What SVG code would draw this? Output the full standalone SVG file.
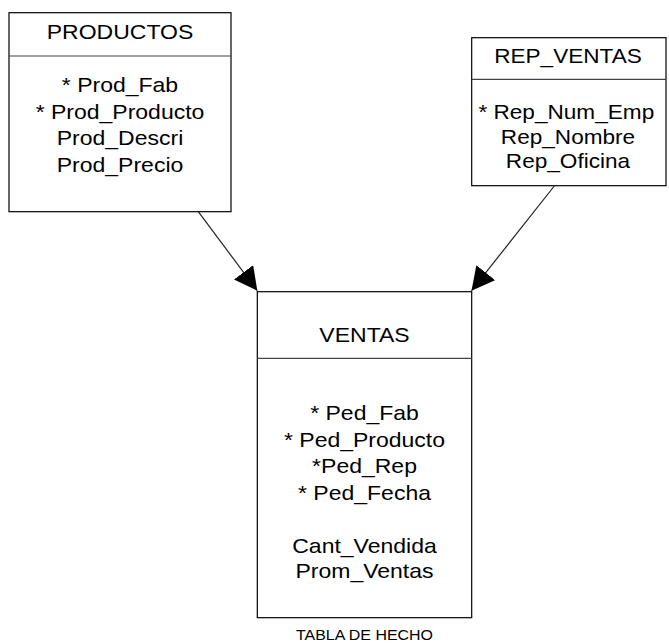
<svg xmlns="http://www.w3.org/2000/svg" width="669" height="644" viewBox="0 0 669 644">
  <style>
    .box { fill: #ffffff; stroke: #000000; stroke-width: 1.2; }
    .sep { stroke: #444444; stroke-width: 1.2; }
    .txt { font-family: "Liberation Sans", Arial, sans-serif; font-size: 20px; fill: #000; text-anchor: middle; }
    .caption { font-family: "Liberation Sans", Arial, sans-serif; font-size: 14.5px; fill: #000; text-anchor: middle; }
    .link { stroke: #222222; stroke-width: 1.2; fill: none; marker-end: url(#head); }
  </style>
  <defs>
    <marker id="head" markerUnits="userSpaceOnUse" viewBox="0 0 23 24" refX="23" refY="12" markerWidth="23" markerHeight="24" orient="auto">
      <path d="M0,0 L23,12 L0,24 z" fill="#000"/>
    </marker>
  </defs>

  <rect width="669" height="644" fill="#ffffff"/>

  <g id="connectors">
    <line class="link" x1="198.3" y1="211.7" x2="257.3" y2="290.7"/>
    <line class="link" x1="554.3" y1="186" x2="471.5" y2="290.7"/>
  </g>

  <!-- text is set in a slightly widened face: each column is scaled horizontally about its centre -->
  <g id="productos">
    <rect class="box" x="9" y="12.7" width="222" height="199"/>
    <line class="sep" x1="9" y1="56" x2="231" y2="56"/>
    <g transform="translate(120 0) scale(1.15 1)">
      <text class="txt" x="0" y="39">PRODUCTOS</text>
      <text class="txt" x="0" y="91.7">* Prod_Fab</text>
      <text class="txt" x="0" y="118.7">* Prod_Producto</text>
      <text class="txt" x="0" y="145.3">Prod_Descri</text>
      <text class="txt" x="0" y="171.7">Prod_Precio</text>
    </g>
  </g>

  <g id="rep_ventas">
    <rect class="box" x="471.7" y="37.7" width="194.3" height="148"/>
    <line class="sep" x1="471.7" y1="79.3" x2="666" y2="79.3"/>
    <g transform="translate(568 0) scale(1.13 1)">
      <text class="txt" x="0" y="63.3">REP_VENTAS</text>
      <text class="txt" x="-1.5" y="119.3">* Rep_Num_Emp</text>
      <text class="txt" x="0" y="143.8">Rep_Nombre</text>
      <text class="txt" x="0" y="168.3">Rep_Oficina</text>
    </g>
  </g>

  <g id="ventas">
    <rect class="box" x="257.3" y="291.7" width="214.4" height="326"/>
    <line class="sep" x1="257.3" y1="358.3" x2="471.7" y2="358.3"/>
    <g transform="translate(364.5 0) scale(1.15 1)">
      <text class="txt" x="0" y="341.7">VENTAS</text>
      <text class="txt" x="0" y="420">* Ped_Fab</text>
      <text class="txt" x="0" y="446.7">* Ped_Producto</text>
      <text class="txt" x="0" y="473.3">*Ped_Rep</text>
      <text class="txt" x="0" y="500">* Ped_Fecha</text>
      <text class="txt" x="0" y="553.3">Cant_Vendida</text>
      <text class="txt" x="0" y="578.3">Prom_Ventas</text>
    </g>
    <text class="caption" transform="translate(364.5 639.5) scale(1.1 1)" x="0" y="0">TABLA DE HECHO</text>
  </g>
</svg>
